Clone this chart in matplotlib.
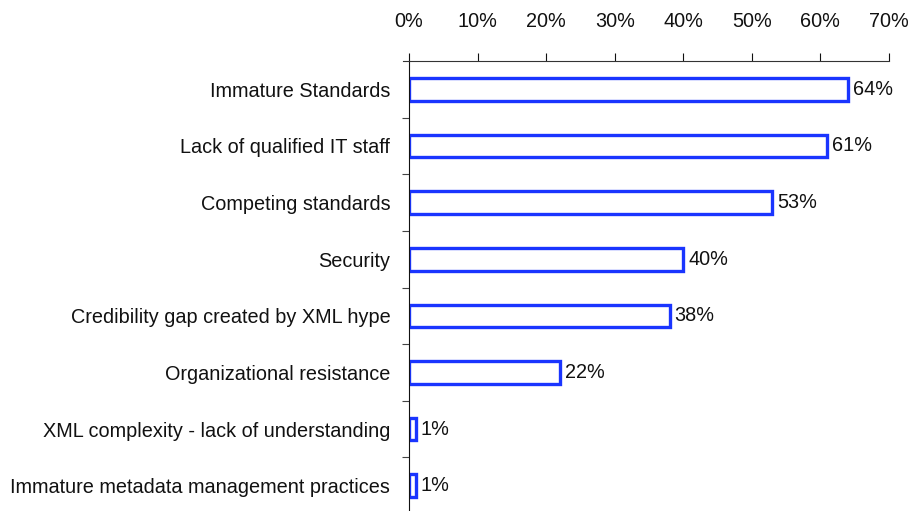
import numpy as np
from matplotlib import pyplot as plt
from matplotlib.ticker import FixedLocator, PercentFormatter

plt.rcParams["font.family"] = ["Liberation Sans", "DejaVu Sans"]

# Data
categories = [
    "Immature Standards",
    "Lack of qualified IT staff",
    "Competing standards",
    "Security",
    "Credibility gap created by XML hype",
    "Organizational resistance",
    "XML complexity - lack of understanding",
    "Immature metadata management practices",
]
percentages = [64, 61, 53, 40, 38, 22, 1, 1]

barColour = "#1a35ff"
fontSize = 14.3

fig = plt.figure(figsize=(9.13, 5.11), dpi=100)
ax = fig.add_axes([0.448, -0.006, 0.5257, 0.8866])

yPos = np.arange(len(categories))
bars = ax.barh(yPos, percentages, height=0.4, facecolor="white",
        edgecolor=barColour, linewidth=2.4)
ax.bar_label(bars, labels=["{}%".format(p) for p in percentages],
        padding=3.5, fontsize=fontSize, color="#111111")

ax.set_ylim(len(categories) - 0.5, -0.5)
ax.set_xlim(0, 70)

# x axis on top
ax.xaxis.set_ticks_position("top")
ax.xaxis.set_label_position("top")
ax.set_xticks(np.arange(0, 71, 10))
ax.xaxis.set_major_formatter(PercentFormatter(decimals=0))
ax.tick_params(axis="x", direction="out", length=6, width=0.8,
        pad=15.5, labelsize=fontSize, colors="#111111")

# category labels, tick marks between categories
ax.set_yticks(yPos)
ax.set_yticklabels(categories)
ax.tick_params(axis="y", which="major", length=0, pad=13.5,
        labelsize=fontSize, colors="#111111")
ax.yaxis.set_minor_locator(FixedLocator(yPos[:-1] + 0.5))
ax.tick_params(axis="y", which="minor", length=5, width=0.8, color="#444444")

for side in ["right", "bottom"]:
    ax.spines[side].set_visible(False)
ax.spines["top"].set_linewidth(0.8)
ax.spines["left"].set_linewidth(0.8)
ax.spines["top"].set_color("#333333")
ax.spines["left"].set_color("#111111")

# the top axis line reaches a little to the left of zero
ax.plot([-0.9, 0], [-0.5, -0.5], color="#333333", linewidth=0.8,
        clip_on=False)

fig.savefig("out.png", dpi=100)
